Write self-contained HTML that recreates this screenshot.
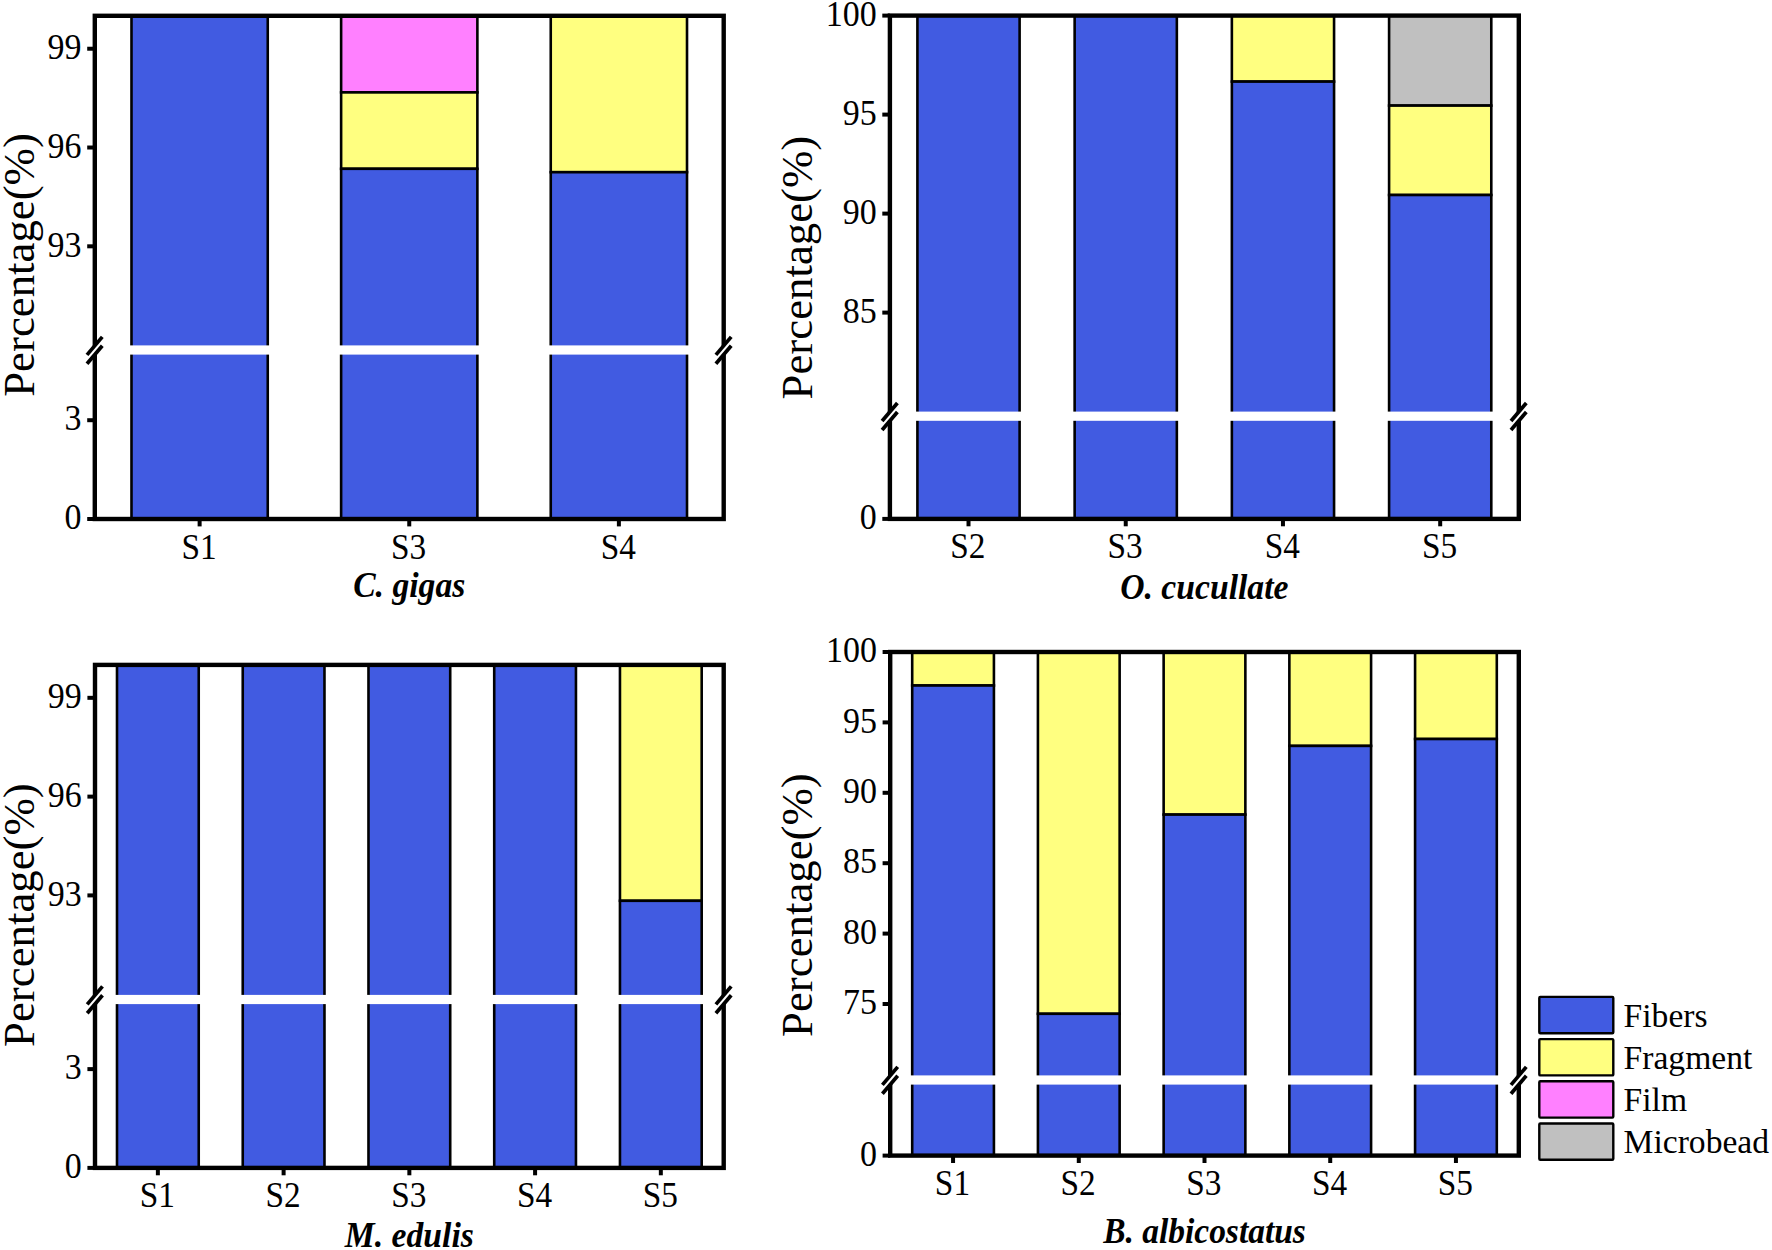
<!DOCTYPE html>
<html><head><meta charset="utf-8"><title>Microplastic shape composition</title>
<style>
html,body{margin:0;padding:0;background:#fff;}
svg{display:block;}
text{font-family:"Liberation Serif","Times New Roman",serif;fill:#000;}
</style></head><body>
<svg width="1772" height="1250" viewBox="0 0 1772 1250">
<rect width="1772" height="1250" fill="#fff"/>
<rect x="131.49" y="15.80" width="136.26" height="503.20" fill="#415BE1" stroke="#000" stroke-width="2.6"/>
<rect x="128.49" y="345.40" width="142.26" height="9.2" fill="#fff"/>
<rect x="341.12" y="15.80" width="136.26" height="76.60" fill="#FF80FF" stroke="#000" stroke-width="2.6"/>
<rect x="341.12" y="92.40" width="136.26" height="76.40" fill="#FFFF80" stroke="#000" stroke-width="2.6"/>
<rect x="341.12" y="168.80" width="136.26" height="350.20" fill="#415BE1" stroke="#000" stroke-width="2.6"/>
<rect x="338.12" y="345.40" width="142.26" height="9.2" fill="#fff"/>
<rect x="550.75" y="15.80" width="136.26" height="156.40" fill="#FFFF80" stroke="#000" stroke-width="2.6"/>
<rect x="550.75" y="172.20" width="136.26" height="346.80" fill="#415BE1" stroke="#000" stroke-width="2.6"/>
<rect x="547.75" y="345.40" width="142.26" height="9.2" fill="#fff"/>
<rect x="94.80" y="15.80" width="628.90" height="503.20" fill="none" stroke="#000" stroke-width="4.4"/>
<line x1="87.20" y1="48.73" x2="94.80" y2="48.73" stroke="#000" stroke-width="4.0"/>
<text transform="translate(81.60,58.93) scale(1,1.055)" text-anchor="end" font-size="34">99</text>
<line x1="87.20" y1="147.52" x2="94.80" y2="147.52" stroke="#000" stroke-width="4.0"/>
<text transform="translate(81.60,157.72) scale(1,1.055)" text-anchor="end" font-size="34">96</text>
<line x1="87.20" y1="246.31" x2="94.80" y2="246.31" stroke="#000" stroke-width="4.0"/>
<text transform="translate(81.60,256.51) scale(1,1.055)" text-anchor="end" font-size="34">93</text>
<line x1="87.20" y1="420.21" x2="94.80" y2="420.21" stroke="#000" stroke-width="4.0"/>
<text transform="translate(81.60,430.41) scale(1,1.055)" text-anchor="end" font-size="34">3</text>
<line x1="87.20" y1="519.00" x2="94.80" y2="519.00" stroke="#000" stroke-width="4.0"/>
<text transform="translate(81.60,529.20) scale(1,1.055)" text-anchor="end" font-size="34">0</text>
<line x1="199.62" y1="519.00" x2="199.62" y2="526.40" stroke="#000" stroke-width="4.0"/>
<text transform="translate(199.02,558.50) scale(0.98,1.03)" text-anchor="middle" font-size="34">S1</text>
<line x1="409.25" y1="519.00" x2="409.25" y2="526.40" stroke="#000" stroke-width="4.0"/>
<text transform="translate(408.65,558.50) scale(0.98,1.03)" text-anchor="middle" font-size="34">S3</text>
<line x1="618.88" y1="519.00" x2="618.88" y2="526.40" stroke="#000" stroke-width="4.0"/>
<text transform="translate(618.28,558.50) scale(0.98,1.03)" text-anchor="middle" font-size="34">S4</text>
<line x1="87.30" y1="358.70" x2="102.30" y2="341.30" stroke="#fff" stroke-width="5.5"/>
<line x1="87.00" y1="354.85" x2="102.30" y2="336.85" stroke="#000" stroke-width="3.7"/>
<line x1="87.00" y1="363.75" x2="102.30" y2="345.75" stroke="#000" stroke-width="3.7"/>
<line x1="716.20" y1="358.70" x2="731.20" y2="341.30" stroke="#fff" stroke-width="5.5"/>
<line x1="715.90" y1="354.85" x2="731.20" y2="336.85" stroke="#000" stroke-width="3.7"/>
<line x1="715.90" y1="363.75" x2="731.20" y2="345.75" stroke="#000" stroke-width="3.7"/>
<text transform="translate(409.25,597.30) scale(0.99,1.04)" text-anchor="middle" font-size="34" font-weight="bold" font-style="italic">C. gigas</text>
<text transform="translate(33.80,265.00) rotate(-90)" text-anchor="middle" font-size="44.8">Percentage(%)</text>
<rect x="917.41" y="15.60" width="102.20" height="503.30" fill="#415BE1" stroke="#000" stroke-width="2.6"/>
<rect x="914.41" y="411.60" width="108.20" height="9.2" fill="#fff"/>
<rect x="1074.64" y="15.60" width="102.20" height="503.30" fill="#415BE1" stroke="#000" stroke-width="2.6"/>
<rect x="1071.64" y="411.60" width="108.20" height="9.2" fill="#fff"/>
<rect x="1231.86" y="15.60" width="102.20" height="66.00" fill="#FFFF80" stroke="#000" stroke-width="2.6"/>
<rect x="1231.86" y="81.60" width="102.20" height="437.30" fill="#415BE1" stroke="#000" stroke-width="2.6"/>
<rect x="1228.86" y="411.60" width="108.20" height="9.2" fill="#fff"/>
<rect x="1389.09" y="15.60" width="102.20" height="90.00" fill="#C0C0C0" stroke="#000" stroke-width="2.6"/>
<rect x="1389.09" y="105.60" width="102.20" height="89.40" fill="#FFFF80" stroke="#000" stroke-width="2.6"/>
<rect x="1389.09" y="195.00" width="102.20" height="323.90" fill="#415BE1" stroke="#000" stroke-width="2.6"/>
<rect x="1386.09" y="411.60" width="108.20" height="9.2" fill="#fff"/>
<rect x="889.90" y="15.60" width="628.90" height="503.30" fill="none" stroke="#000" stroke-width="4.4"/>
<line x1="882.30" y1="15.60" x2="889.90" y2="15.60" stroke="#000" stroke-width="4.0"/>
<text transform="translate(876.70,25.80) scale(1,1.055)" text-anchor="end" font-size="34">100</text>
<line x1="882.30" y1="114.60" x2="889.90" y2="114.60" stroke="#000" stroke-width="4.0"/>
<text transform="translate(876.70,124.80) scale(1,1.055)" text-anchor="end" font-size="34">95</text>
<line x1="882.30" y1="213.60" x2="889.90" y2="213.60" stroke="#000" stroke-width="4.0"/>
<text transform="translate(876.70,223.80) scale(1,1.055)" text-anchor="end" font-size="34">90</text>
<line x1="882.30" y1="312.60" x2="889.90" y2="312.60" stroke="#000" stroke-width="4.0"/>
<text transform="translate(876.70,322.80) scale(1,1.055)" text-anchor="end" font-size="34">85</text>
<line x1="882.30" y1="518.90" x2="889.90" y2="518.90" stroke="#000" stroke-width="4.0"/>
<text transform="translate(876.70,529.10) scale(1,1.055)" text-anchor="end" font-size="34">0</text>
<line x1="968.51" y1="518.90" x2="968.51" y2="526.30" stroke="#000" stroke-width="4.0"/>
<text transform="translate(967.91,558.40) scale(0.98,1.03)" text-anchor="middle" font-size="34">S2</text>
<line x1="1125.74" y1="518.90" x2="1125.74" y2="526.30" stroke="#000" stroke-width="4.0"/>
<text transform="translate(1125.14,558.40) scale(0.98,1.03)" text-anchor="middle" font-size="34">S3</text>
<line x1="1282.96" y1="518.90" x2="1282.96" y2="526.30" stroke="#000" stroke-width="4.0"/>
<text transform="translate(1282.36,558.40) scale(0.98,1.03)" text-anchor="middle" font-size="34">S4</text>
<line x1="1440.19" y1="518.90" x2="1440.19" y2="526.30" stroke="#000" stroke-width="4.0"/>
<text transform="translate(1439.59,558.40) scale(0.98,1.03)" text-anchor="middle" font-size="34">S5</text>
<line x1="882.40" y1="424.90" x2="897.40" y2="407.50" stroke="#fff" stroke-width="5.5"/>
<line x1="882.10" y1="421.05" x2="897.40" y2="403.05" stroke="#000" stroke-width="3.7"/>
<line x1="882.10" y1="429.95" x2="897.40" y2="411.95" stroke="#000" stroke-width="3.7"/>
<line x1="1511.30" y1="424.90" x2="1526.30" y2="407.50" stroke="#fff" stroke-width="5.5"/>
<line x1="1511.00" y1="421.05" x2="1526.30" y2="403.05" stroke="#000" stroke-width="3.7"/>
<line x1="1511.00" y1="429.95" x2="1526.30" y2="411.95" stroke="#000" stroke-width="3.7"/>
<text transform="translate(1204.35,599.00) scale(0.99,1.04)" text-anchor="middle" font-size="34" font-weight="bold" font-style="italic">O. cucullate</text>
<text transform="translate(812.30,267.60) rotate(-90)" text-anchor="middle" font-size="44.8">Percentage(%)</text>
<rect x="117.00" y="664.90" width="81.73" height="503.00" fill="#415BE1" stroke="#000" stroke-width="2.6"/>
<rect x="114.00" y="994.90" width="87.73" height="9.2" fill="#fff"/>
<rect x="242.74" y="664.90" width="81.73" height="503.00" fill="#415BE1" stroke="#000" stroke-width="2.6"/>
<rect x="239.74" y="994.90" width="87.73" height="9.2" fill="#fff"/>
<rect x="368.48" y="664.90" width="81.73" height="503.00" fill="#415BE1" stroke="#000" stroke-width="2.6"/>
<rect x="365.48" y="994.90" width="87.73" height="9.2" fill="#fff"/>
<rect x="494.22" y="664.90" width="81.73" height="503.00" fill="#415BE1" stroke="#000" stroke-width="2.6"/>
<rect x="491.22" y="994.90" width="87.73" height="9.2" fill="#fff"/>
<rect x="619.96" y="664.90" width="81.73" height="235.90" fill="#FFFF80" stroke="#000" stroke-width="2.6"/>
<rect x="619.96" y="900.80" width="81.73" height="267.10" fill="#415BE1" stroke="#000" stroke-width="2.6"/>
<rect x="616.96" y="994.90" width="87.73" height="9.2" fill="#fff"/>
<rect x="95.00" y="664.90" width="628.70" height="503.00" fill="none" stroke="#000" stroke-width="4.4"/>
<line x1="87.40" y1="697.83" x2="95.00" y2="697.83" stroke="#000" stroke-width="4.0"/>
<text transform="translate(81.80,708.03) scale(1,1.055)" text-anchor="end" font-size="34">99</text>
<line x1="87.40" y1="796.62" x2="95.00" y2="796.62" stroke="#000" stroke-width="4.0"/>
<text transform="translate(81.80,806.82) scale(1,1.055)" text-anchor="end" font-size="34">96</text>
<line x1="87.40" y1="895.41" x2="95.00" y2="895.41" stroke="#000" stroke-width="4.0"/>
<text transform="translate(81.80,905.61) scale(1,1.055)" text-anchor="end" font-size="34">93</text>
<line x1="87.40" y1="1069.11" x2="95.00" y2="1069.11" stroke="#000" stroke-width="4.0"/>
<text transform="translate(81.80,1079.31) scale(1,1.055)" text-anchor="end" font-size="34">3</text>
<line x1="87.40" y1="1167.90" x2="95.00" y2="1167.90" stroke="#000" stroke-width="4.0"/>
<text transform="translate(81.80,1178.10) scale(1,1.055)" text-anchor="end" font-size="34">0</text>
<line x1="157.87" y1="1167.90" x2="157.87" y2="1175.30" stroke="#000" stroke-width="4.0"/>
<text transform="translate(157.27,1207.40) scale(0.98,1.03)" text-anchor="middle" font-size="34">S1</text>
<line x1="283.61" y1="1167.90" x2="283.61" y2="1175.30" stroke="#000" stroke-width="4.0"/>
<text transform="translate(283.01,1207.40) scale(0.98,1.03)" text-anchor="middle" font-size="34">S2</text>
<line x1="409.35" y1="1167.90" x2="409.35" y2="1175.30" stroke="#000" stroke-width="4.0"/>
<text transform="translate(408.75,1207.40) scale(0.98,1.03)" text-anchor="middle" font-size="34">S3</text>
<line x1="535.09" y1="1167.90" x2="535.09" y2="1175.30" stroke="#000" stroke-width="4.0"/>
<text transform="translate(534.49,1207.40) scale(0.98,1.03)" text-anchor="middle" font-size="34">S4</text>
<line x1="660.83" y1="1167.90" x2="660.83" y2="1175.30" stroke="#000" stroke-width="4.0"/>
<text transform="translate(660.23,1207.40) scale(0.98,1.03)" text-anchor="middle" font-size="34">S5</text>
<line x1="87.50" y1="1008.20" x2="102.50" y2="990.80" stroke="#fff" stroke-width="5.5"/>
<line x1="87.20" y1="1004.35" x2="102.50" y2="986.35" stroke="#000" stroke-width="3.7"/>
<line x1="87.20" y1="1013.25" x2="102.50" y2="995.25" stroke="#000" stroke-width="3.7"/>
<line x1="716.20" y1="1008.20" x2="731.20" y2="990.80" stroke="#fff" stroke-width="5.5"/>
<line x1="715.90" y1="1004.35" x2="731.20" y2="986.35" stroke="#000" stroke-width="3.7"/>
<line x1="715.90" y1="1013.25" x2="731.20" y2="995.25" stroke="#000" stroke-width="3.7"/>
<text transform="translate(409.35,1246.50) scale(0.99,1.04)" text-anchor="middle" font-size="34" font-weight="bold" font-style="italic">M. edulis</text>
<text transform="translate(33.80,915.10) rotate(-90)" text-anchor="middle" font-size="44.8">Percentage(%)</text>
<rect x="912.20" y="652.00" width="81.72" height="33.50" fill="#FFFF80" stroke="#000" stroke-width="2.6"/>
<rect x="912.20" y="685.50" width="81.72" height="470.10" fill="#415BE1" stroke="#000" stroke-width="2.6"/>
<rect x="909.20" y="1075.40" width="87.72" height="9.2" fill="#fff"/>
<rect x="1037.92" y="652.00" width="81.72" height="361.80" fill="#FFFF80" stroke="#000" stroke-width="2.6"/>
<rect x="1037.92" y="1013.80" width="81.72" height="141.80" fill="#415BE1" stroke="#000" stroke-width="2.6"/>
<rect x="1034.92" y="1075.40" width="87.72" height="9.2" fill="#fff"/>
<rect x="1163.64" y="652.00" width="81.72" height="162.60" fill="#FFFF80" stroke="#000" stroke-width="2.6"/>
<rect x="1163.64" y="814.60" width="81.72" height="341.00" fill="#415BE1" stroke="#000" stroke-width="2.6"/>
<rect x="1160.64" y="1075.40" width="87.72" height="9.2" fill="#fff"/>
<rect x="1289.36" y="652.00" width="81.72" height="93.90" fill="#FFFF80" stroke="#000" stroke-width="2.6"/>
<rect x="1289.36" y="745.90" width="81.72" height="409.70" fill="#415BE1" stroke="#000" stroke-width="2.6"/>
<rect x="1286.36" y="1075.40" width="87.72" height="9.2" fill="#fff"/>
<rect x="1415.08" y="652.00" width="81.72" height="87.00" fill="#FFFF80" stroke="#000" stroke-width="2.6"/>
<rect x="1415.08" y="739.00" width="81.72" height="416.60" fill="#415BE1" stroke="#000" stroke-width="2.6"/>
<rect x="1412.08" y="1075.40" width="87.72" height="9.2" fill="#fff"/>
<rect x="890.20" y="652.00" width="628.60" height="503.60" fill="none" stroke="#000" stroke-width="4.4"/>
<line x1="882.60" y1="652.00" x2="890.20" y2="652.00" stroke="#000" stroke-width="4.0"/>
<text transform="translate(877.00,662.20) scale(1,1.055)" text-anchor="end" font-size="34">100</text>
<line x1="882.60" y1="722.40" x2="890.20" y2="722.40" stroke="#000" stroke-width="4.0"/>
<text transform="translate(877.00,732.60) scale(1,1.055)" text-anchor="end" font-size="34">95</text>
<line x1="882.60" y1="792.80" x2="890.20" y2="792.80" stroke="#000" stroke-width="4.0"/>
<text transform="translate(877.00,803.00) scale(1,1.055)" text-anchor="end" font-size="34">90</text>
<line x1="882.60" y1="863.20" x2="890.20" y2="863.20" stroke="#000" stroke-width="4.0"/>
<text transform="translate(877.00,873.40) scale(1,1.055)" text-anchor="end" font-size="34">85</text>
<line x1="882.60" y1="933.60" x2="890.20" y2="933.60" stroke="#000" stroke-width="4.0"/>
<text transform="translate(877.00,943.80) scale(1,1.055)" text-anchor="end" font-size="34">80</text>
<line x1="882.60" y1="1004.00" x2="890.20" y2="1004.00" stroke="#000" stroke-width="4.0"/>
<text transform="translate(877.00,1014.20) scale(1,1.055)" text-anchor="end" font-size="34">75</text>
<line x1="882.60" y1="1155.60" x2="890.20" y2="1155.60" stroke="#000" stroke-width="4.0"/>
<text transform="translate(877.00,1165.80) scale(1,1.055)" text-anchor="end" font-size="34">0</text>
<line x1="953.06" y1="1155.60" x2="953.06" y2="1163.00" stroke="#000" stroke-width="4.0"/>
<text transform="translate(952.46,1195.10) scale(0.98,1.03)" text-anchor="middle" font-size="34">S1</text>
<line x1="1078.78" y1="1155.60" x2="1078.78" y2="1163.00" stroke="#000" stroke-width="4.0"/>
<text transform="translate(1078.18,1195.10) scale(0.98,1.03)" text-anchor="middle" font-size="34">S2</text>
<line x1="1204.50" y1="1155.60" x2="1204.50" y2="1163.00" stroke="#000" stroke-width="4.0"/>
<text transform="translate(1203.90,1195.10) scale(0.98,1.03)" text-anchor="middle" font-size="34">S3</text>
<line x1="1330.22" y1="1155.60" x2="1330.22" y2="1163.00" stroke="#000" stroke-width="4.0"/>
<text transform="translate(1329.62,1195.10) scale(0.98,1.03)" text-anchor="middle" font-size="34">S4</text>
<line x1="1455.94" y1="1155.60" x2="1455.94" y2="1163.00" stroke="#000" stroke-width="4.0"/>
<text transform="translate(1455.34,1195.10) scale(0.98,1.03)" text-anchor="middle" font-size="34">S5</text>
<line x1="882.70" y1="1088.70" x2="897.70" y2="1071.30" stroke="#fff" stroke-width="5.5"/>
<line x1="882.40" y1="1084.85" x2="897.70" y2="1066.85" stroke="#000" stroke-width="3.7"/>
<line x1="882.40" y1="1093.75" x2="897.70" y2="1075.75" stroke="#000" stroke-width="3.7"/>
<line x1="1511.30" y1="1088.70" x2="1526.30" y2="1071.30" stroke="#fff" stroke-width="5.5"/>
<line x1="1511.00" y1="1084.85" x2="1526.30" y2="1066.85" stroke="#000" stroke-width="3.7"/>
<line x1="1511.00" y1="1093.75" x2="1526.30" y2="1075.75" stroke="#000" stroke-width="3.7"/>
<text transform="translate(1204.50,1243.40) scale(0.985,1.04)" text-anchor="middle" font-size="34" font-weight="bold" font-style="italic">B. albicostatus</text>
<text transform="translate(812.30,905.10) rotate(-90)" text-anchor="middle" font-size="44.8">Percentage(%)</text>
<rect x="1539.3" y="996.90" width="74" height="36.3" rx="1" fill="#415BE1" stroke="#000" stroke-width="2.4"/>
<text x="1623.6" y="1026.70" font-size="33.6">Fibers</text>
<rect x="1539.3" y="1039.10" width="74" height="36.3" rx="1" fill="#FFFF80" stroke="#000" stroke-width="2.4"/>
<text x="1623.6" y="1068.90" font-size="33.6">Fragment</text>
<rect x="1539.3" y="1081.30" width="74" height="36.3" rx="1" fill="#FF80FF" stroke="#000" stroke-width="2.4"/>
<text x="1623.6" y="1111.10" font-size="33.6">Film</text>
<rect x="1539.3" y="1123.50" width="74" height="36.3" rx="1" fill="#C0C0C0" stroke="#000" stroke-width="2.4"/>
<text x="1623.6" y="1153.30" font-size="33.6">Microbead</text>
</svg>
</body></html>
